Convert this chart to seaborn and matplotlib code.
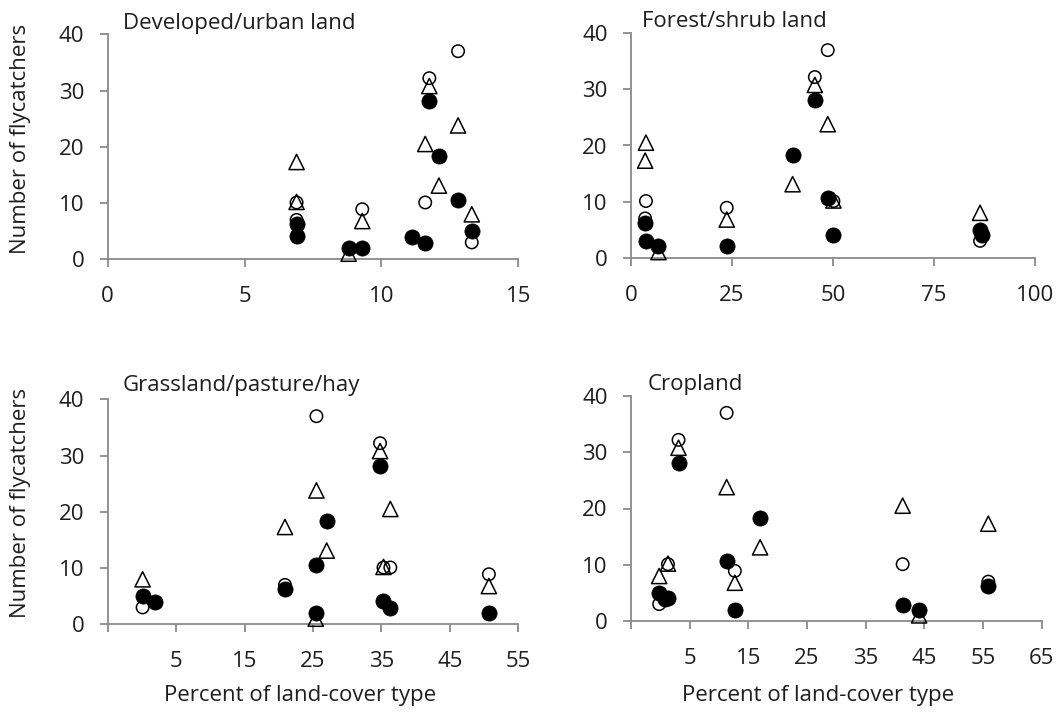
import numpy as np
import pandas as pd
import matplotlib
matplotlib.use("Agg")
import matplotlib.pyplot as plt
import seaborn as sns

# ---------------- data (one entry per site) ----------------
sites = ["S1", "S2", "S3", "S4", "S5", "S6", "S7", "S8", "S9", "S10"]

# flycatcher counts for the three series (open circle, open triangle, filled circle)
open_circle_counts = [32.2, 37.0, np.nan, 8.9, 10.1, 7.0, 10.1, 3.0, np.nan, np.nan]
triangle_counts = [30.8, 23.8, 13.1, 6.8, 20.5, 17.3, 10.2, 8.0, 1.0, np.nan]
filled_counts = [28.1, 10.6, 18.3, 2.0, 2.9, 6.2, 4.1, 5.0, 2.0, 4.0]

# percent of each land-cover type per site
developed_pct = [11.75, 12.8, 12.1, 9.3, 11.6, 6.9, 6.9, 13.3, 8.8, 11.1]
forest_pct = [45.5, 48.7, 40.0, 23.7, 3.7, 3.5, 50.1, 86.4, 6.8, 86.8]
grassland_pct = [34.8, 25.5, 27.0, 50.7, 36.3, 20.9, 35.3, 0.1, 25.4, 1.9]
cropland_pct = [3.1, 11.3, 17.0, 12.7, 41.3, 55.9, 1.3, -0.2, 44.1, 0.8]

panel_titles = ["Developed/urban land", "Forest/shrub land",
                "Grassland/pasture/hay", "Cropland"]
series_names = ["Series 1", "Series 2", "Series 3"]

dev_ticks = [0, 5, 10, 15]
forest_ticks = [0, 25, 50, 75, 100]
grass_ticks = [-5, 5, 15, 25, 35, 45, 55]
crop_ticks = [-5, 5, 15, 25, 35, 45, 55, 65]
y_ticks = [0, 10, 20, 30, 40]

y_label = "Number of flycatchers"
x_label = "Percent of land-cover type"

# ---------------- styling ----------------
sns.set_theme(style="white")
plt.rcParams["font.family"] = ["Open Sans", "DejaVu Sans"]
TXT = "#1e1e1e"
AXC = "#8a8a8a"
FS = 16

fig = plt.figure(figsize=(10.63, 7.12), dpi=100)
W, H = 1063.0, 712.0


def px_axes(l, r, t, b):
    return fig.add_axes([l / W, 1 - b / H, (r - l) / W, (b - t) / H])


axes = [
    px_axes(107.7, 518.3, 34.3, 259.3),
    px_axes(631.0, 1035.0, 33.3, 257.7),
    px_axes(107.7, 518.3, 399.3, 624.3),
    px_axes(631.0, 1041.7, 396.0, 621.0),
]
pcts = [developed_pct, forest_pct, grassland_pct, cropland_pct]
xticks = [dev_ticks, forest_ticks, grass_ticks, crop_ticks]

marker_specs = [
    dict(marker="o", s=80, facecolor="none", edgecolor="black", linewidth=1.1),
    dict(marker="^", s=120, facecolor="none", edgecolor="black", linewidth=1.1),
    dict(marker="o", s=120, facecolor="black", edgecolor="black", linewidth=0.5),
]
counts = [open_circle_counts, triangle_counts, filled_counts]

for ax, pct, ticks in zip(axes, pcts, xticks):
    frames = []
    for name, cnt in zip(series_names, counts):
        frames.append(pd.DataFrame({"site": sites, "pct": pct, "count": cnt, "series": name}))
    df = pd.concat(frames, ignore_index=True).dropna()
    for name, spec in zip(series_names, marker_specs):
        sub = df[df["series"] == name]
        sns.scatterplot(data=sub, x="pct", y="count", ax=ax, color="black",
                        legend=False, clip_on=False, zorder=3, **spec)
    ax.set_xlim(ticks[0], ticks[-1])
    ax.set_ylim(0, 40)
    ax.set_xticks(ticks)
    ax.set_xticklabels([str(t) if t >= 0 else "" for t in ticks])
    ax.set_yticks(y_ticks)
    ax.set_xlabel("")
    ax.set_ylabel("")
    for side in ["top", "right"]:
        ax.spines[side].set_visible(False)
    for side in ["left", "bottom"]:
        ax.spines[side].set_color(AXC)
        ax.spines[side].set_linewidth(1.3)
    ax.tick_params(axis="x", which="major", direction="out", length=5.8, width=1.3,
                   color=AXC, labelsize=FS, labelcolor=TXT, pad=13.5, bottom=True)
    ax.tick_params(axis="y", which="major", direction="out", length=5.8, width=1.3,
                   color=AXC, labelsize=FS, labelcolor=TXT, pad=11, left=True)
    ax.grid(False)
    ax.set_facecolor("white")

# panel titles
title_pos = [(123, 29.5), (642, 27), (123, 391), (648, 390)]
for (tx, ty), title in zip(title_pos, panel_titles):
    fig.text(tx / W, 1 - ty / H, title, fontsize=FS, color=TXT, ha="left", va="baseline")

# y labels
for cy in [139, 503]:
    fig.text(21 / W, 1 - cy / H, y_label, rotation=90, fontsize=FS, color=TXT,
             ha="center", va="center")
# x labels
for cx in [300, 818]:
    fig.text(cx / W, 1 - 695 / H, x_label, fontsize=FS, color=TXT, ha="center", va="center")

fig.savefig("out.png", dpi=100, facecolor="white")
